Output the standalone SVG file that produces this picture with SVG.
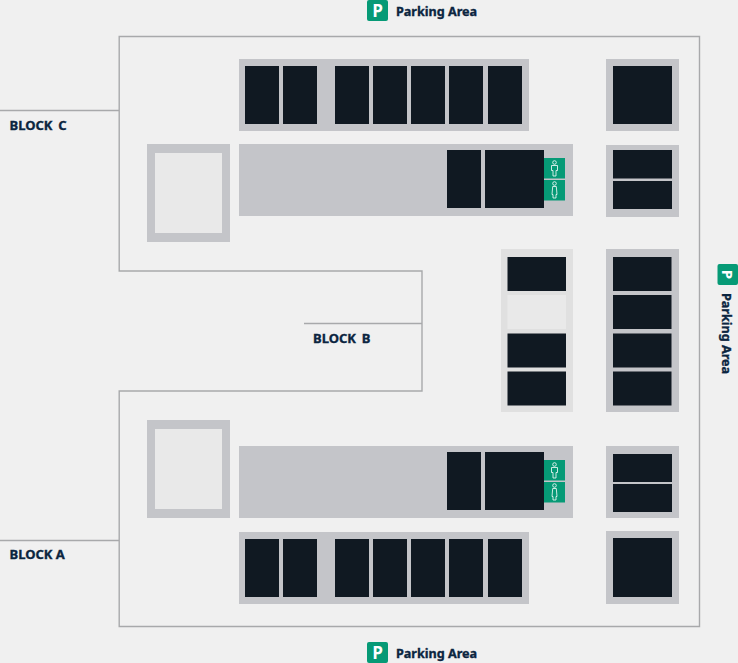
<svg xmlns="http://www.w3.org/2000/svg" width="738" height="663" viewBox="0 0 738 663">
<style>
.g{fill:#c4c5c9}
.d{fill:#101922}
.l{fill:#e9e9e9}
.m{fill:#e0e0e0}
.t{fill:#0b2540;font-family:"Noto Sans","Open Sans",sans-serif;font-weight:700;font-size:13px;stroke:#0b2540;stroke-width:.35px}
.a{font-size:12.6px}
.pb{fill:#069a76}
.pt{fill:#fff;font-family:"Open Sans","Noto Sans",sans-serif;font-weight:700;font-size:17px;text-anchor:middle}
.r{font-size:15px}
.c{fill:none;stroke:#a8a9ab;stroke-width:1.4}
.i{fill:none;stroke:#fff;stroke-width:.8}
</style>
<defs>
<g id="wc">
<rect class="pb" x="0" y="0" width="21" height="20.500"/>
<rect class="pb" x="0" y="22" width="21" height="20.500"/>
<circle class="i" cx="10.500" cy="4.500" r="1.800"/>
<path class="i" d="M7.500 7.500h6v5h-1.500v5.500h-3v-5.500h-1.500z"/>
<circle class="i" cx="10.500" cy="25.500" r="1.800"/>
<path class="i" d="M8.700 28.500h3.600l.7 8h-1v3.500h-3v-3.500h-1z"/>
</g>
</defs>
<rect width="738" height="663" fill="#f0f0f0"/>
<g id="connectors">
<path class="c" d="M119.200 111V36.500H699.500V626.500H119.200V391H422V271H119.200V111"/>
<path class="c" d="M0 110.500H119M0 540.500H119M304 323.500H422"/>
</g>
<g id="block-c-row"><rect class="g" x="239" y="59" width="290" height="72"/><rect class="d" x="245" y="66" width="34" height="58"/><rect class="d" x="283" y="66" width="34" height="58"/><rect class="d" x="335" y="66" width="34" height="58"/><rect class="d" x="373" y="66" width="34" height="58"/><rect class="d" x="411" y="66" width="34" height="58"/><rect class="d" x="449" y="66" width="34" height="58"/><rect class="d" x="488" y="66" width="34" height="58"/></g>
<g id="block-c-corner"><rect class="g" x="606" y="59" width="73" height="72"/><rect class="d" x="613" y="66" width="59" height="58"/></g>
<g id="block-c-pale"><rect class="g" x="147" y="144" width="83" height="98"/><rect class="l" x="155" y="153" width="67" height="80"/></g>
<g id="block-c-main"><rect class="g" x="239" y="144" width="334" height="72"/><rect class="d" x="447" y="150" width="34" height="58"/><rect class="d" x="485" y="150" width="59" height="58"/><use href="#wc" x="544" y="158"/></g>
<g id="block-c-side"><rect class="g" x="606" y="145" width="73" height="72"/><rect class="d" x="613" y="150" width="59" height="28.500"/><rect class="d" x="613" y="181" width="59" height="28"/></g>
<g id="block-b-pale"><rect class="m" x="501" y="249" width="72" height="163"/><rect class="d" x="507.500" y="257" width="58.500" height="34"/><rect class="l" x="507.500" y="295" width="58.500" height="34"/><rect class="d" x="507.500" y="333.500" width="58.500" height="34"/><rect class="d" x="507.500" y="371.500" width="58.500" height="34"/></g>
<g id="block-b-side"><rect class="g" x="606" y="249" width="73" height="163"/><rect class="d" x="613" y="257" width="58.500" height="34"/><rect class="d" x="613" y="295" width="58.500" height="34"/><rect class="d" x="613" y="333.500" width="58.500" height="34"/><rect class="d" x="613" y="371.500" width="58.500" height="34"/></g>
<g id="block-a-pale"><rect class="g" x="147" y="420" width="83" height="98"/><rect class="l" x="155" y="429" width="67" height="80"/></g>
<g id="block-a-main"><rect class="g" x="239" y="446" width="334" height="72"/><rect class="d" x="447" y="452" width="34" height="58"/><rect class="d" x="485" y="452" width="59" height="58"/><use href="#wc" x="544" y="460"/></g>
<g id="block-a-side"><rect class="g" x="606" y="446" width="73" height="72"/><rect class="d" x="613" y="454" width="59" height="28"/><rect class="d" x="613" y="484" width="59" height="28"/></g>
<g id="block-a-row"><rect class="g" x="239" y="532" width="290" height="72"/><rect class="d" x="245" y="539" width="34" height="58"/><rect class="d" x="283" y="539" width="34" height="58"/><rect class="d" x="335" y="539" width="34" height="58"/><rect class="d" x="373" y="539" width="34" height="58"/><rect class="d" x="411" y="539" width="34" height="58"/><rect class="d" x="449" y="539" width="34" height="58"/><rect class="d" x="488" y="539" width="34" height="58"/></g>
<g id="block-a-corner"><rect class="g" x="606" y="531" width="73" height="73"/><rect class="d" x="613" y="538" width="59" height="59"/></g>
<g id="label-block-c"><text class="t" x="9.500" y="130" word-spacing="2.500">BLOCK C</text></g>
<g id="label-block-b"><text class="t" x="313" y="343" word-spacing="2.500">BLOCK B</text></g>
<g id="label-block-a"><text class="t" x="9.500" y="559">BLOCK A</text></g>
<g id="parking-top"><rect class="pb" x="367" y="0" width="21" height="21" rx="2"/><text class="pt" x="377.500" y="16.500">P</text><text class="t a" x="396" y="16">Parking Area</text></g>
<g id="parking-bottom"><rect class="pb" x="367" y="642" width="21" height="21" rx="2"/><text class="pt" x="377.500" y="658.500">P</text><text class="t a" x="396" y="658">Parking Area</text></g>
<g id="parking-right"><rect class="pb" x="717.500" y="264" width="20.500" height="21" rx="2"/><text class="pt r" transform="translate(721.500 274.500) rotate(90)">P</text><text class="t a" transform="translate(721.500 293) rotate(90)">Parking Area</text></g>
</svg>
